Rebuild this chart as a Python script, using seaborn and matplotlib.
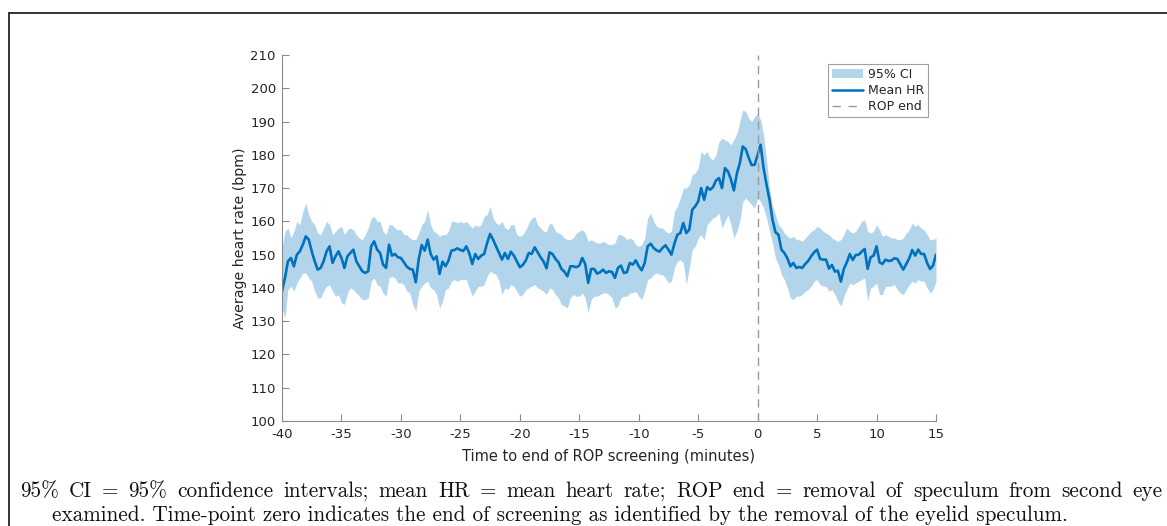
import numpy as np
import pandas as pd
import matplotlib
matplotlib.use("Agg")
import matplotlib.pyplot as plt
import seaborn as sns
from matplotlib.patches import Rectangle
from matplotlib.lines import Line2D
from matplotlib.patches import Patch

# ---------------- data ----------------
t_start, t_stop, t_step = -40.0, 15.0, 0.25

mean_hr = [
    139, 143, 148, 149, 146.5, 150, 151, 153, 155.5, 154.5, 151, 148, 145.5, 146, 148, 151, 152.5, 147.5,
    149.5, 151, 149, 146, 149.5, 150.5, 151.5, 148, 146.5, 145, 144.5, 145, 152.5, 154, 151.5, 150.5, 147, 146, 153,
    149.7, 150.2, 149.2, 149, 147.7, 146.4, 145.7, 145.5, 141.7, 148.7, 152.9, 151.2, 154.5, 150.2, 148.5, 149.5,
    144.2, 147.9, 146.5, 148.2, 151.2, 151.4, 151.9, 151.4, 151.1, 152.5, 150.4, 147.2, 150.2, 148.7, 149.7, 150.2,
    153.5, 156.2, 154.5, 152.5, 150.5,
    148.5, 150.5, 148.7, 150.9, 149.7, 148, 146.2, 146.9, 148.2, 150.5, 150.2, 152.2, 150.7, 149.2, 147.9, 145.9,
    150.7, 150.2, 148.7, 147.7, 145.7, 144.9, 143.5, 146.5, 146.5, 146.2, 146.7, 149, 147.2, 141.5, 145.7, 145.7,
    144.3, 144.7, 145.5, 144.5, 145,
    144.8, 143, 146, 146.7, 144.5, 144.7, 147.5, 147, 148.3, 146.5, 145.3, 147.5, 152.5, 153.3, 152, 151.3, 150.9,
    152, 152.8, 151.5, 150, 153.3, 156, 156.5, 159.5, 156.5, 157.5, 163.5, 164.5, 166, 170, 166.5, 170.3, 169.5,
    170.3, 172.3, 173,
    170, 176, 175, 172.7, 169.3, 174.3, 177.5, 182.5, 181.7, 179.1, 176.9, 177, 180, 183, 176, 171, 166.5, 160.5,
    156.7, 156, 151.5, 150.5, 148.9, 146.5, 147.5, 146, 146.3, 146, 147.2, 148.1, 149.5, 150.7, 151.5, 148.7, 148.5,
    148.5, 145.8,
    146.9, 144.9, 145.2, 141.9, 145.7, 147.7, 150.2, 148.4, 149.9, 150, 150.9, 151.7, 145.7, 149.2, 149.7, 152.5,
    147.7, 147.2, 148.5, 148.1, 148.2, 148.9, 148.7, 147.1, 145.5, 147.2, 148.9, 151.4, 149.7, 151.5, 150.2, 150.2,
    147.5, 145.7, 146.7, 150,
]

ci_upper = [
    152, 157, 158, 155, 157, 160, 159, 163, 165.5, 162, 160, 159, 156.5, 156, 158, 160, 159, 156, 157, 158, 158.5,
    156, 157.5, 158, 157.5, 156, 155, 154.5, 156, 158, 161, 161.5, 160, 160, 157, 156, 159,
    159, 158, 157.5, 157.5, 156, 156, 155, 154.5, 154.5, 156.5, 159, 160, 163.5, 159, 157, 156.5, 155.5, 156, 156,
    157, 160, 160, 159.5, 160, 159.5, 160, 159, 158, 159, 158.5, 159, 161.5, 162, 164.5, 161, 159.5, 159,
    160, 158, 157.5, 159, 159, 156, 155.5, 156, 157.5, 159.5, 161, 161.5, 159, 158, 157, 157, 159.5, 159, 157,
    156.5, 156, 155, 154.5, 154.5, 155, 156.5, 157, 157.5, 156.5, 154, 154.5, 154, 153.5, 153.5, 154, 153.5, 153,
    153, 153.5, 156, 156, 155.5, 154.5, 155, 154.5, 153, 152.5, 153, 155, 161, 162.5, 160, 158.5, 158, 158, 157,
    156.5, 157, 163, 164.5, 167, 170, 170, 171, 174, 174.5, 176, 181, 180, 181, 179, 178.5, 180, 184,
    185, 184.5, 184, 183, 184.5, 186.5, 190, 193.5, 193, 191, 190, 191.5, 192.5, 190.5, 186, 178.5, 170, 164.5,
    162, 159, 158, 156.5, 155.5, 155, 155.5, 154.5, 154.5, 154, 155, 156, 157, 157.5, 158.5, 158, 157, 156.5, 156,
    155, 154.5, 154, 154.5, 156, 158, 157, 156.5, 157, 158.5, 160, 160.5, 157, 156.5, 157, 159, 157.5, 155.5, 156,
    155.5, 155, 155, 154.5, 154.5, 155, 156.5, 157.5, 159.5, 158.5, 159, 158, 157.5, 156, 154.5, 154.5, 155,
]

ci_lower = [
    134, 131, 139.5, 140.5, 139, 141.5, 143, 144.5, 144.5, 143, 142, 139, 137, 137, 139, 140.5, 141, 139, 137.5,
    138, 135.5, 135, 138.5, 140, 139.5, 138.5, 137.5, 136.5, 136.5, 137, 142, 143, 141, 140.5, 138.5, 137.5, 143,
    143.5, 143, 141.5, 141.5, 141, 139, 138.5, 135, 133, 139, 140.5, 141.5, 142, 140, 139.5, 138, 134, 136, 139.5,
    140, 142, 142.5, 142, 142.5, 142.5, 142.5, 140, 137.5, 139, 140.5, 140.5, 141, 143.5, 145, 144.5, 144, 142,
    138, 140, 139.5, 141, 140.5, 139, 137.5, 138, 139.5, 140, 140.5, 141, 140, 139.5, 139, 138, 140, 139.5, 138,
    137, 135, 134.5, 134, 137, 138, 137.5, 137.5, 138.5, 137, 132.5, 136.5, 137.5, 137.5, 138, 138.5, 138.5, 138,
    137, 134, 134.5, 137, 137.5, 137.5, 138.5, 138.5, 139, 137.5, 136.5, 139, 142.5, 143, 144, 144.5, 144, 144,
    143, 141.5, 142, 146, 148, 148.5, 147.5, 141, 146, 151.5, 152.5, 155, 156, 154.5, 159, 160, 161, 161.5, 162.5,
    158, 160, 162, 159, 155, 157, 160, 166, 167, 166, 165, 164, 167, 166, 164, 161, 157, 153.5, 149, 147, 144,
    142.5, 140, 137, 136.5, 137.5, 137.5, 138, 139, 139.5, 140.5, 142, 142.5, 141, 140.5, 140.5, 139,
    139.5, 138, 136, 134.5, 137.5, 139.5, 141.5, 141, 141.5, 142, 142.5, 143, 136, 140, 140.5, 141.5, 138, 138,
    140.5, 140.5, 140.5, 141, 139.5, 138.5, 138, 139.5, 141, 142, 141.5, 142.5, 142, 142, 140, 138.5, 139.5, 142,
]

x_ticks = [-40, -35, -30, -25, -20, -15, -10, -5, 0, 5, 10, 15]
y_ticks = [100, 110, 120, 130, 140, 150, 160, 170, 180, 190, 200, 210]
rop_end = 0

caption_line1 = ("95% CI = 95% confidence intervals; mean HR = mean heart rate; "
                 "ROP end = removal of speculum from second eye")
caption_line2 = ("examined. Time-point zero indicates the end of screening as identified "
                 "by the removal of the eyelid speculum.")

time_min = np.arange(t_start, t_stop + t_step / 2, t_step)
df = pd.DataFrame({"time": time_min, "mean": mean_hr, "lo": ci_lower, "hi": ci_upper})

# ---------------- style ----------------
sns.set_theme(style="white")
plt.rcParams["font.family"] = ["DejaVu Sans"]
plt.rcParams["axes.unicode_minus"] = False

BLUE = "#0072BD"
BAND = "#B3D5EC"
GREY_AX = "#8c8c8c"
TXT = "#262626"
W, H = 1167, 526

fig = plt.figure(figsize=(W / 100, H / 100), dpi=100)
fig.patch.set_facecolor("white")

# figure frame (top and left edges visible)
fig.add_artist(Rectangle((8.5 / W, -0.05), 1.2, 1 - 13 / H + 0.05, transform=fig.transFigure,
                         fill=False, edgecolor="#333333", linewidth=1.4, clip_on=False))

ax = fig.add_axes([282 / W, 1 - 421 / H, 654 / W, 366 / H])

ax.fill_between(df["time"], df["lo"], df["hi"], color=BAND, linewidth=0, label="95% CI")
sns.lineplot(data=df, x="time", y="mean", ax=ax, color=BLUE, linewidth=1.9, label="Mean HR")
ax.axvline(rop_end, color="#999999", linestyle=(0, (6, 4)), linewidth=1.0, label="ROP end")

ax.set_xlim(-40, 15)
ax.set_ylim(100, 210)
ax.set_xticks(x_ticks)
ax.set_yticks(y_ticks)
ax.set_xticklabels([str(v) for v in x_ticks])
ax.set_yticklabels([str(v) for v in y_ticks])

for s in ["top", "right"]:
    ax.spines[s].set_visible(False)
for s in ["left", "bottom"]:
    ax.spines[s].set_color(GREY_AX)
    ax.spines[s].set_linewidth(0.8)
ax.tick_params(axis="both", direction="in", length=5, width=0.8, color=GREY_AX,
               labelsize=9.5, labelcolor=TXT, bottom=True, left=True)
ax.tick_params(axis="x", pad=5)
ax.tick_params(axis="y", pad=4.5)

ax.set_xlabel("Time to end of ROP screening (minutes)", fontsize=10.5, color=TXT, labelpad=5.5)
ax.set_ylabel("Average heart rate (bpm)", fontsize=10.2, color=TXT, labelpad=2.5)

handles = [Patch(facecolor=BAND, edgecolor="none"),
           Line2D([0], [0], color=BLUE, linewidth=1.8),
           Line2D([0], [0], color="#999999", linestyle=(0, (6, 5.5)), linewidth=1.0)]
leg = ax.legend(handles, ["95% CI", "Mean HR", "ROP end"], loc="upper right",
                bbox_to_anchor=((928 - 282) / 654, (421 - 64) / 366), frameon=True,
                fancybox=False, fontsize=9, handlelength=2.5, handletextpad=0.4,
                borderpad=0.3, labelspacing=0.25, borderaxespad=0)
leg.get_frame().set_edgecolor("#888888")
leg.get_frame().set_linewidth(0.8)
for txt in leg.get_texts():
    txt.set_color(TXT)

# ---------------- caption (first line justified like LaTeX) ----------------
CAP_FONT = dict(family=["cmr10", "DejaVu Serif"], fontsize=15.25, color="#111111",
                ha="left", va="baseline")
renderer = fig.canvas.get_renderer()
words = caption_line1.split(" ")
x_left, x_right = 20.0, 1163.0
texts = [fig.text(0, 1 - 497 / H, w_, **CAP_FONT) for w_ in words]
widths = [t_.get_window_extent(renderer=renderer).width for t_ in texts]
gap = (x_right - x_left - sum(widths)) / (len(words) - 1)
xpos = x_left
for t_, w_ in zip(texts, widths):
    t_.set_x(xpos / W)
    xpos += w_ + gap

fig.text(52 / W, 1 - 521 / H, caption_line2, **CAP_FONT)

fig.savefig("out.png", dpi=100, facecolor="white")
